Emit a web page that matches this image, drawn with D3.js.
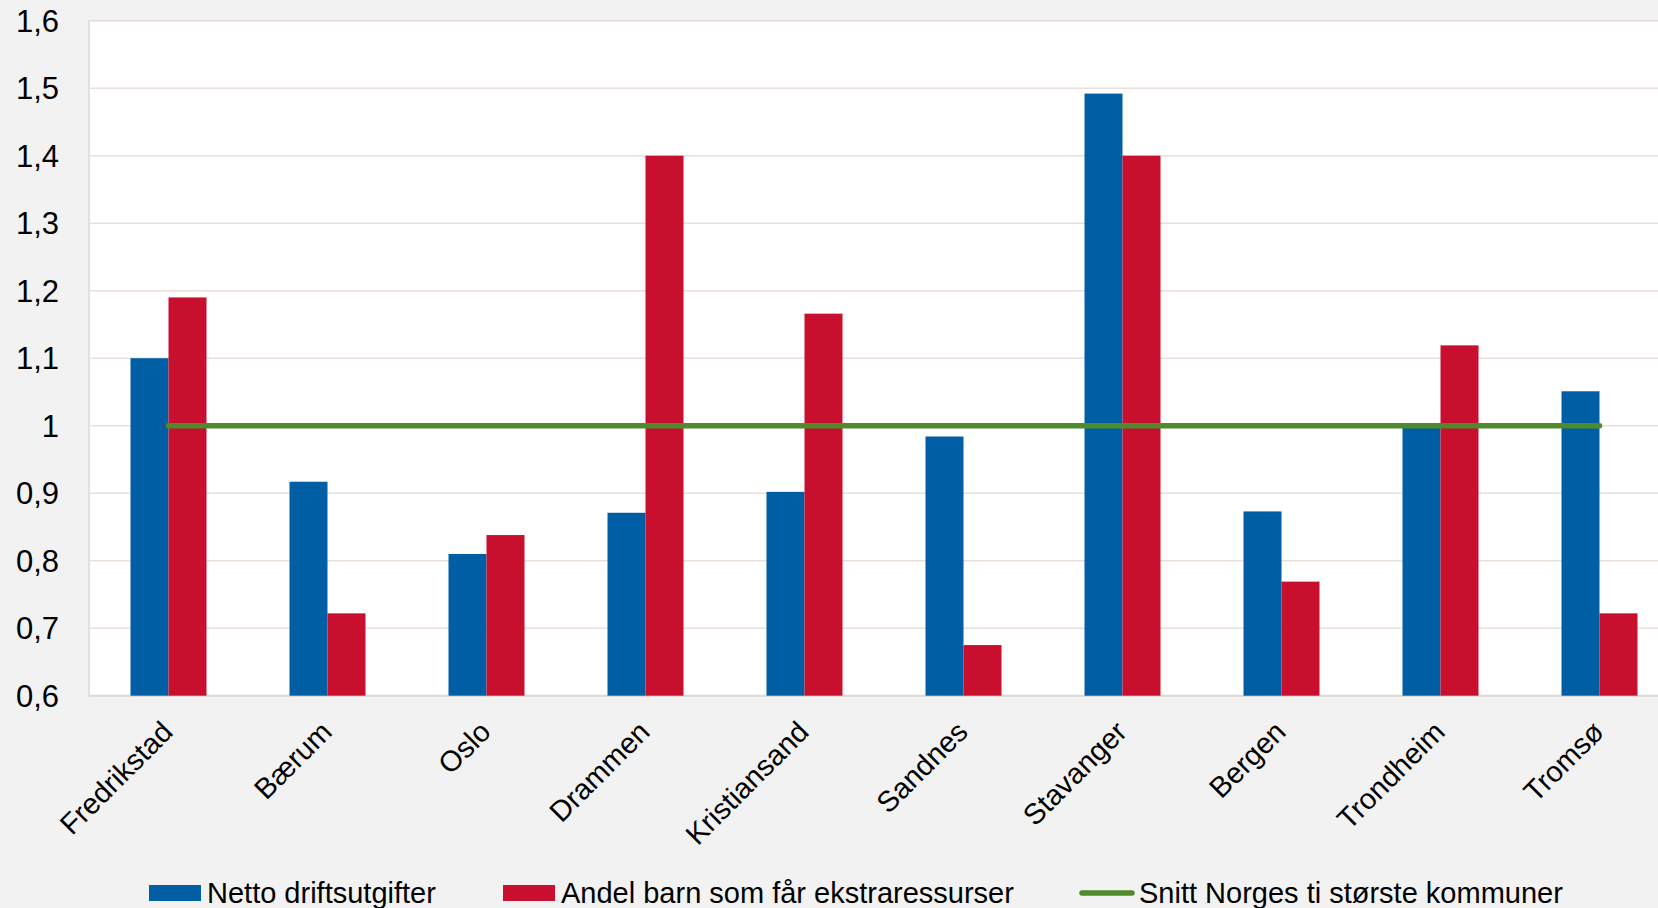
<!DOCTYPE html>
<html>
<head>
<meta charset="utf-8">
<script src="https://cdnjs.cloudflare.com/ajax/libs/d3/7.8.5/d3.min.js"></script>
<style>
  html, body { margin: 0; padding: 0; background: #f2f2f2; }
  svg { display: block; }
  text { font-family: "Liberation Sans", Arial, sans-serif; fill: #000; }
</style>
</head>
<body>
<svg id="vimage" width="1658" height="908"></svg>
<script>
//---------------------------------------- Data ---------------------------------------
var kommuner = ["Fredrikstad", "Bærum", "Oslo", "Drammen", "Kristiansand", "Sandnes", "Stavanger", "Bergen", "Trondheim", "Tromsø"];
var nettoDrift = [1.10, 0.917, 0.81, 0.871, 0.902, 0.984, 1.492, 0.873, 0.999, 1.051];
var andelBarn = [1.19, 0.722, 0.838, 1.40, 1.166, 0.675, 1.40, 0.769, 1.119, 0.722];
var snitt = [1, 1, 1, 1, 1, 1, 1, 1, 1, 1];
var seriesNames = ["Netto driftsutgifter", "Andel barn som får ekstraressurser", "Snitt Norges ti største kommuner"];
var yTicks = [0.6, 0.7, 0.8, 0.9, 1.0, 1.1, 1.2, 1.3, 1.4, 1.5, 1.6];

var blue = "#005ea5";
var red = "#c8102e";
var green = "#4f8b2c";

//---------------------------------------- Scales ---------------------------------------
var svg = d3.select("#vimage");
var plotLeft = 89, plotRight = 1679, plotTop = 20.7, plotBottom = 695.7;

var x0 = d3.scaleBand()
    .domain(kommuner)
    .range([plotLeft, plotRight])
    .paddingInner(0.522)
    .paddingOuter(0.261);

var x1 = d3.scaleBand()
    .domain([0, 1])
    .range([0, x0.bandwidth()]);

var y = d3.scaleLinear()
    .domain([0.6, 1.6])
    .range([plotBottom, plotTop]);

var fmt = function(d) { return d3.format(".1~f")(d).replace(".", ","); };

//---------------------------------------- Plot area ---------------------------------------
svg.append("rect")
    .attr("x", plotLeft).attr("y", plotTop)
    .attr("width", plotRight - plotLeft).attr("height", plotBottom - plotTop)
    .style("fill", "#fff")
    .style("stroke", "#d9d9d9")
    .style("stroke-width", 1.5);

svg.append("g")
    .selectAll("line")
    .data(yTicks.slice(1))
    .enter().append("line")
    .attr("x1", plotLeft).attr("x2", plotRight)
    .attr("y1", function(d) { return y(d); })
    .attr("y2", function(d) { return y(d); })
    .style("stroke", "#eadfd9")
    .style("stroke-width", 1.6);

// bottom axis line
svg.append("line")
    .attr("x1", plotLeft).attr("x2", plotRight)
    .attr("y1", plotBottom).attr("y2", plotBottom)
    .style("stroke", "#e3d9d3")
    .style("stroke-width", 2);

//---------------------------------------- Bars ---------------------------------------
var rows = kommuner.map(function(k, i) {
    return {name: k, values: [nettoDrift[i], andelBarn[i]]};
});

var groups = svg.append("g")
    .selectAll("g")
    .data(rows)
    .enter().append("g")
    .attr("transform", function(d) { return "translate(" + x0(d.name) + ",0)"; });

groups.selectAll("rect")
    .data(function(d) { return d.values; })
    .enter().append("rect")
    .attr("x", function(d, i) { return x1(i); })
    .attr("y", function(d) { return y(d); })
    .attr("width", x1.bandwidth())
    .attr("height", function(d) { return plotBottom - y(d); })
    .style("fill", function(d, i) { return i == 0 ? blue : red; });

//---------------------------------------- Line ---------------------------------------
var line = d3.line()
    .x(function(d, i) { return x0(kommuner[i]) + x0.bandwidth() / 2; })
    .y(function(d) { return y(d); });

svg.append("path")
    .datum(snitt)
    .attr("d", line)
    .style("fill", "none")
    .style("stroke", green)
    .style("stroke-width", 5.5)
    .style("stroke-linecap", "round");

//---------------------------------------- Axes ---------------------------------------
svg.append("g")
    .selectAll("text")
    .data(yTicks)
    .enter().append("text")
    .attr("x", 59)
    .attr("y", function(d) { return y(d); })
    .attr("dy", "0.36em")
    .style("text-anchor", "end")
    .style("font-size", "31px")
    .text(fmt);

svg.append("g")
    .selectAll("text")
    .data(kommuner)
    .enter().append("text")
    .attr("transform", function(d) {
        return "translate(" + (x0(d) + x0.bandwidth() / 2 + 6) + "," + (plotBottom + 38) + ") rotate(-45)";
    })
    .style("text-anchor", "end")
    .style("font-size", "29px")
    .text(function(d) { return d; });

//---------------------------------------- Legend ---------------------------------------
var legendX = [149, 503, 1079];
var legend = svg.append("g")
    .selectAll("g")
    .data(seriesNames)
    .enter().append("g")
    .attr("transform", function(d, i) { return "translate(" + legendX[i] + ",893)"; });

legend.filter(function(d, i) { return i < 2; })
    .append("rect")
    .attr("x", 0).attr("y", -8)
    .attr("width", 52).attr("height", 16)
    .style("fill", function(d, i) { return i == 0 ? blue : red; });

legend.filter(function(d, i) { return i == 2; })
    .append("line")
    .attr("x1", 3).attr("x2", 53)
    .attr("y1", 0).attr("y2", 0)
    .style("stroke", green)
    .style("stroke-width", 5.5)
    .style("stroke-linecap", "round");

legend.append("text")
    .attr("x", function(d, i) { return i == 2 ? 60 : 58; })
    .attr("y", 10)
    .style("font-size", "29px")
    .text(function(d) { return d; });
</script>
</body>
</html>
